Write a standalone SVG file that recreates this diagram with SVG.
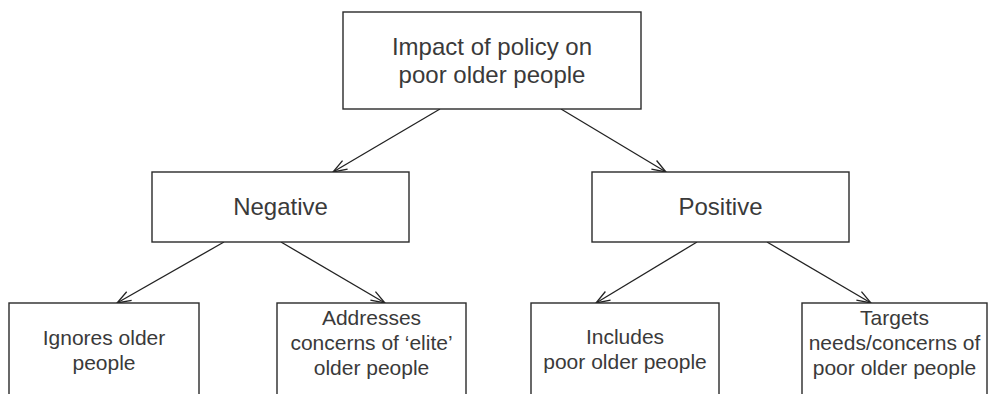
<svg xmlns="http://www.w3.org/2000/svg" width="989" height="394" viewBox="0 0 989 394">
  <style>
    .box { fill: #ffffff; stroke: #2a2a2a; stroke-width: 1.4; }
    .lbl { font-family: "Liberation Sans", Arial, Helvetica, sans-serif; fill: #3a3a3a; text-anchor: middle; }
    .big { font-size: 24px; }
    .small { font-size: 21px; }
    .edge { fill: none; stroke: #222222; stroke-width: 1.3; marker-end: url(#open-arrow); }
  </style>
  <defs>
    <marker id="open-arrow" markerUnits="userSpaceOnUse" markerWidth="18" markerHeight="14" refX="15" refY="6" orient="auto">
      <path d="M1,1 L15,6 L1,11" fill="none" stroke="#222222" stroke-width="1.3"/>
    </marker>
  </defs>
  <rect width="989" height="394" fill="#ffffff"/>

  <!-- connectors -->
  <g id="connectors">
    <line class="edge" x1="440" y1="109" x2="333" y2="172"/>
    <line class="edge" x1="561" y1="109" x2="666" y2="172"/>
    <line class="edge" x1="224" y1="242" x2="117" y2="303"/>
    <line class="edge" x1="281" y1="242" x2="385" y2="303"/>
    <line class="edge" x1="697" y1="242" x2="596" y2="303"/>
    <line class="edge" x1="767" y1="242" x2="871" y2="303"/>
  </g>

  <!-- root -->
  <g id="impact">
    <rect class="box" x="343" y="12" width="298" height="97"/>
    <text class="lbl big" x="492" y="55">Impact of policy on</text>
    <text class="lbl big" x="492" y="83">poor older people</text>
  </g>

  <!-- second level -->
  <g id="negative">
    <rect class="box" x="152" y="172" width="257" height="70"/>
    <text class="lbl big" x="280.5" y="215">Negative</text>
  </g>
  <g id="positive">
    <rect class="box" x="592" y="172" width="257" height="70"/>
    <text class="lbl big" x="720.5" y="215">Positive</text>
  </g>

  <!-- leaves -->
  <g id="ignores">
    <rect class="box" x="9" y="303" width="190" height="100"/>
    <text class="lbl small" x="104" y="345">Ignores older</text>
    <text class="lbl small" x="104" y="370">people</text>
  </g>
  <g id="elite">
    <rect class="box" x="277" y="303" width="189" height="100"/>
    <text class="lbl small" x="371.5" y="325">Addresses</text>
    <text class="lbl small" x="371.5" y="350">concerns of ‘elite’</text>
    <text class="lbl small" x="371.5" y="375">older people</text>
  </g>
  <g id="includes">
    <rect class="box" x="531" y="303" width="188" height="100"/>
    <text class="lbl small" x="625" y="344">Includes</text>
    <text class="lbl small" x="625" y="369">poor older people</text>
  </g>
  <g id="targets">
    <rect class="box" x="802" y="303" width="185" height="100"/>
    <text class="lbl small" x="894.5" y="325">Targets</text>
    <text class="lbl small" x="894.5" y="350">needs/concerns of</text>
    <text class="lbl small" x="894.5" y="375">poor older people</text>
  </g>
</svg>
